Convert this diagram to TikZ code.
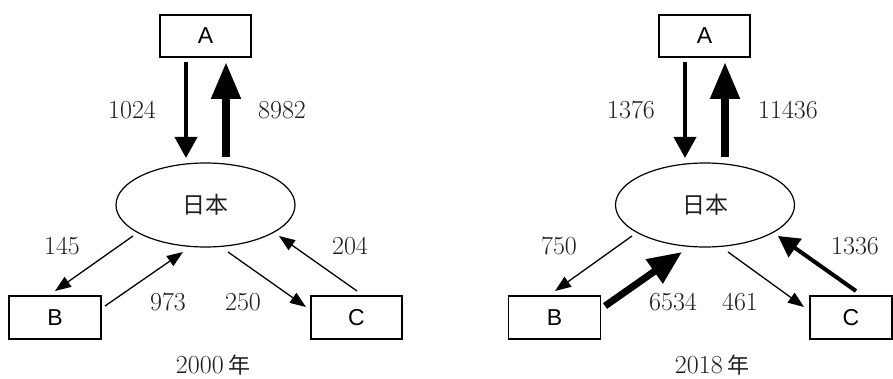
\documentclass[tikz,border=0pt]{standalone}
\usepackage{fontspec}
\usetikzlibrary{arrows.meta,shapes.geometric}
\newfontfamily\abcfont{Liberation Sans}
\newfontfamily\cjk{Noto Sans CJK SC}
\definecolor{txt}{HTML}{1E1E1E}
\tikzset{
  box/.style={draw, line width=1.3pt, minimum width=91pt, minimum height=42pt, inner sep=0pt,
    font=\abcfont\fontsize{23}{26}\selectfont},
  oval/.style={draw, ellipse, line width=1.2pt, minimum width=179pt, minimum height=84pt, inner sep=0pt,
    font=\cjk\fontsize{23}{26}\selectfont, text=txt},
  num/.style={inner sep=0pt, text=txt, font=\fontsize{26}{30}\selectfont},
  thinarr/.style={line width=1.3pt, -{Triangle[length=16pt,width=12pt]}},
  medarr/.style={line width=4pt, -{Triangle[length=21pt,width=22pt]}},
  bigarr/.style={line width=8pt, -{Triangle[length=37pt,width=28pt]}},
}
\begin{document}
\begin{tikzpicture}[x=1pt,y=-1pt]
\useasboundingbox (0,0) rectangle (893,379);
% ---------------- 2000 ----------------
\node[box] (A1) at (205.5,36) {A};
\node[oval] (J1) at (205.5,205) {日本};
\node[box, minimum width=92pt, minimum height=43pt] (B1) at (55,317.5) {B};
\node[box, minimum height=43pt] (C1) at (356.5,317.5) {C};
\coordinate (a1s) at (186,62);  \coordinate (a1e) at (186,158);
\coordinate (a2s) at (226,157); \coordinate (a2e) at (226,62);
\coordinate (b1s) at (133,236); \coordinate (b1e) at (55,291);
\coordinate (b2s) at (105,306); \coordinate (b2e) at (183,252);
\coordinate (c1s) at (228,252); \coordinate (c1e) at (306,307);
\coordinate (c2s) at (357,291); \coordinate (c2e) at (279,236);
\draw[medarr] (a1s) -- (a1e);
\draw[bigarr] (a2s) -- (a2e);
\draw[thinarr] (b1s) -- (b1e);
\draw[thinarr] (b2s) -- (b2e);
\draw[thinarr] (c1s) -- (c1e);
\draw[thinarr] (c2s) -- (c2e);
\node[num] (n1) at (132,110) {1024};
\node[num] (n2) at (282,110) {8982};
\node[num] (n3) at (62,246) {145};
\node[num] (n4) at (168,302) {973};
\node[num] (n5) at (243,302) {250};
\node[num] (n6) at (350,246) {204};
\node[num, anchor=base] (y1) at (213,373) {2000\,{\cjk\fontsize{22}{26}\selectfont 年}};
% ---------------- 2018 ----------------
\node[box] (A2) at (704.5,36) {A};
\node[oval] (J2) at (705,205) {日本};
\node[box, minimum width=92pt, minimum height=43pt] (B2) at (554.5,317.5) {B};
\node[box, minimum width=82pt, minimum height=43pt] (C2) at (851,317.5) {C};
\coordinate (d1s) at (685,62);  \coordinate (d1e) at (685,158);
\coordinate (d2s) at (725,157); \coordinate (d2e) at (725,62);
\coordinate (e1s) at (632,236); \coordinate (e1e) at (555,291);
\coordinate (e2s) at (605,306); \coordinate (e2e) at (682,252);
\coordinate (f1s) at (728,252); \coordinate (f1e) at (804,307);
\coordinate (f2s) at (856,291); \coordinate (f2e) at (778,236);
\draw[medarr] (d1s) -- (d1e);
\draw[bigarr] (d2s) -- (d2e);
\draw[thinarr] (e1s) -- (e1e);
\draw[line width=7pt, -{Triangle[length=34pt,width=28pt]}] (e2s) -- (e2e);
\draw[thinarr] (f1s) -- (f1e);
\draw[medarr] (f2s) -- (f2e);
\node[num] (m1) at (631,110) {1376};
\node[num] (m2) at (788,110) {11436};
\node[num] (m3) at (559,246) {750};
\node[num] (m4) at (673,302) {6534};
\node[num] (m5) at (740,302) {461};
\node[num] (m6) at (855,246) {1336};
\node[num, anchor=base] (y2) at (712,373) {2018\,{\cjk\fontsize{22}{26}\selectfont 年}};
\end{tikzpicture}
\end{document}
